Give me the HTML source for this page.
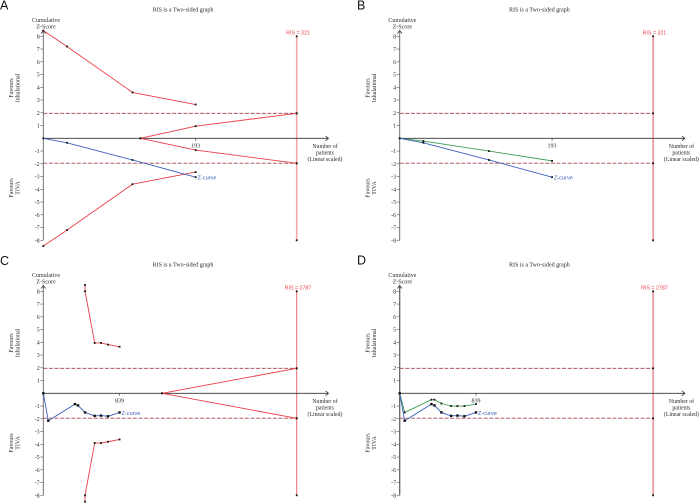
<!DOCTYPE html>
<html lang="en">
<head>
<meta charset="utf-8">
<title>Trial sequential analysis</title>
<style>
html,body{margin:0;padding:0;background:#fff;width:700px;height:503px;overflow:hidden}
svg{display:block}
text{font-family:"Liberation Serif",serif;font-size:6px;fill:#2c2c2c}
.letter{font-family:"Liberation Sans",sans-serif;font-size:12.5px;fill:#111}
.ris{font-family:"Liberation Sans",sans-serif;font-size:5.3px;fill:#e8404a;text-anchor:middle}
.zl{font-family:"Liberation Sans",sans-serif;font-size:5.6px;fill:#3b5fc0}
.c{text-anchor:middle}
.xt{font-size:5.8px}
</style>
</head>
<body>
<svg id="chart" xmlns="http://www.w3.org/2000/svg" width="700" height="503" viewBox="0 0 700 503">
  <g id="panel-a" transform="translate(0,0)">
    <text class="letter" x="0" y="9.3">A</text>
    <text class="c" x="183" y="11.5">RIS is a Two-sided graph</text>
    <text class="c" x="46" y="22"><tspan x="46">Cumulative</tspan><tspan x="46" dy="6.3">Z-Score</tspan></text>
    <text class="c" transform="translate(13,88) rotate(-90)"><tspan x="0">Favours</tspan><tspan x="0" dy="6.6">Inhalational</tspan></text>
    <text class="c" transform="translate(13,188) rotate(-90)"><tspan x="0">Favours</tspan><tspan x="0" dy="6.6">TIVA</tspan></text>
    <text class="c xt" x="325" y="148"><tspan x="325">Number of</tspan><tspan x="325" dy="6.5">patients</tspan><tspan x="325" dy="6.5">(Linear scaled)</tspan></text>
    <text class="ris" x="298" y="34.5">RIS = 321</text>
    <text class="zl" x="197.5" y="179.3">Z-curve</text>
  </g>
  <g id="panel-b" transform="translate(356.4,0)">
    <text class="letter" x="0.6" y="9.3">B</text>
    <text class="c" x="183" y="11.5">RIS is a Two-sided graph</text>
    <text class="c" x="46" y="22"><tspan x="46">Cumulative</tspan><tspan x="46" dy="6.3">Z-Score</tspan></text>
    <text class="c" transform="translate(13,88) rotate(-90)"><tspan x="0">Favours</tspan><tspan x="0" dy="6.6">Inhalational</tspan></text>
    <text class="c" transform="translate(13,188) rotate(-90)"><tspan x="0">Favours</tspan><tspan x="0" dy="6.6">TIVA</tspan></text>
    <text class="c xt" x="325" y="148"><tspan x="325">Number of</tspan><tspan x="325" dy="6.5">patients</tspan><tspan x="325" dy="6.5">(Linear scaled)</tspan></text>
    <text class="ris" x="298" y="34.5">RIS = 321</text>
    <text class="zl" x="197.5" y="179.3">Z-curve</text>
  </g>
  <g id="panel-c" transform="translate(0,255)">
    <text class="letter" x="0" y="10">C</text>
    <text class="c" x="183" y="11.5">RIS is a Two-sided graph</text>
    <text class="c" x="46" y="22"><tspan x="46">Cumulative</tspan><tspan x="46" dy="6.3">Z-Score</tspan></text>
    <text class="c" transform="translate(13,88) rotate(-90)"><tspan x="0">Favours</tspan><tspan x="0" dy="6.6">Inhalational</tspan></text>
    <text class="c" transform="translate(13,188) rotate(-90)"><tspan x="0">Favours</tspan><tspan x="0" dy="6.6">TIVA</tspan></text>
    <text class="c xt" x="325" y="148"><tspan x="325">Number of</tspan><tspan x="325" dy="6.5">patients</tspan><tspan x="325" dy="6.5">(Linear scaled)</tspan></text>
    <text class="ris" x="298" y="34.5">RIS = 2787</text>
    <text class="zl" x="121.5" y="160">Z-curve</text>
  </g>
  <g id="panel-d" transform="translate(356.4,255)">
    <text class="letter" x="0.6" y="9.6">D</text>
    <text class="c" x="183" y="11.5">RIS is a Two-sided graph</text>
    <text class="c" x="46" y="22"><tspan x="46">Cumulative</tspan><tspan x="46" dy="6.3">Z-Score</tspan></text>
    <text class="c" transform="translate(13,88) rotate(-90)"><tspan x="0">Favours</tspan><tspan x="0" dy="6.6">Inhalational</tspan></text>
    <text class="c" transform="translate(13,188) rotate(-90)"><tspan x="0">Favours</tspan><tspan x="0" dy="6.6">TIVA</tspan></text>
    <text class="c xt" x="325" y="148"><tspan x="325">Number of</tspan><tspan x="325" dy="6.5">patients</tspan><tspan x="325" dy="6.5">(Linear scaled)</tspan></text>
    <text class="ris" x="298" y="34.5">RIS = 2787</text>
    <text class="zl" x="121.5" y="160">Z-curve</text>
  </g>
</svg>
<script>
// Shared axis values
const yTickValues = [8, 7, 6, 5, 4, 3, 2, 1, -1, -2, -3, -4, -5, -6, -7, -8];
const conventionalBoundary = [1.96, -1.96];

// Small trials (panels A and B)
const risSmall = 321;
const tickSmall = [193];
const zPatientsSmall = [0, 30, 113, 193];
const zCurveSmall = [0, -0.35, -1.7, -3.05];
const greenCurveSmall = [0, -0.22, -1, -1.77];
const outerPatientsSmall = [0, 30, 113, 193];
const outerUpperSmall = [8.45, 7.2, 3.6, 2.65];
const outerLowerSmall = [-8.45, -7.2, -3.6, -2.65];
const wedgePatientsSmall = [123, 193, 321];
const wedgeUpperSmall = [0, 0.95, 1.96];
const wedgeLowerSmall = [0, -0.92, -1.96];

// Large trials (panels C and D)
const risLarge = 2787;
const tickLarge = [839];
const zPatientsLarge = [0, 55, 349, 382, 459, 565, 635, 712, 839];
const zCurveLarge = [0, -2.15, -0.85, -0.95, -1.5, -1.77, -1.75, -1.8, -1.5];
const greenCurveLarge = [0, -1.5, -0.5, -0.5, -0.8, -1, -1, -1, -0.85];
const outerPatientsLarge = [459, 459, 565, 635, 712, 839];
const outerUpperLarge = [8.5, 8, 3.95, 3.95, 3.82, 3.65];
const outerLowerLarge = [-8.5, -8, -3.9, -3.9, -3.8, -3.62];
const wedgePatientsLarge = [1306, 2787];
const wedgeUpperLarge = [0, 1.96];
const wedgeLowerLarge = [0, -1.96];

const NS = 'http://www.w3.org/2000/svg';
const X0 = 43.3, AXIS_W = 253.4, Y0 = 138.3, UNIT = 12.75;

function svgEl(parent, tag, attrs) {
  const el = document.createElementNS(NS, tag);
  for (const k in attrs) el.setAttribute(k, attrs[k]);
  parent.appendChild(el);
  return el;
}

function yScale(z) { return Y0 - z * UNIT; }

function drawSeries(g, name, xs, ys, xScale, color, width, dots) {
  const pts = xs.map((n, i) => xScale(n).toFixed(2) + ',' + yScale(ys[i]).toFixed(2)).join(' ');
  const line = svgEl(g, 'polyline', {points: pts, fill: 'none', stroke: color, 'stroke-width': width});
  
  
  xs.forEach((n, i) => {
    const d = svgEl(g, 'rect', {x: xScale(n) - dots / 2, y: yScale(ys[i]) - dots / 2, width: dots, height: dots, fill: '#111'});
    
    
  });
}

function drawPanel(id, cfg) {
  const g = document.getElementById(id);
  const xScale = n => X0 + n * AXIS_W / cfg.ris;
  const xEnd = xScale(cfg.ris);

  const risLine = svgEl(g, 'line', {x1: xEnd, x2: xEnd, y1: yScale(8), y2: yScale(-8), stroke: cfg.risColor, 'stroke-width': cfg.risWidth});
  
  

  const upperDash = svgEl(g, 'line', {x1: X0, x2: xEnd, y1: yScale(conventionalBoundary[0]), y2: yScale(conventionalBoundary[0]), stroke: '#a03a44', 'stroke-width': 0.9, 'stroke-dasharray': '4 1.6'});
  
  
  const lowerDash = svgEl(g, 'line', {x1: X0, x2: xEnd, y1: yScale(conventionalBoundary[1]), y2: yScale(conventionalBoundary[1]), stroke: '#c98a8d', 'stroke-width': 1.4, 'stroke-dasharray': '4 1.6'});
  
  

  const yAxis = svgEl(g, 'line', {x1: X0, x2: X0, y1: 31, y2: yScale(-8), stroke: '#666', 'stroke-width': cfg.axisWidth});
  
  
  const yArrow = svgEl(g, 'polyline', {points: (X0 - 2.2) + ',33.5 ' + X0 + ',30.5 ' + (X0 + 2.2) + ',33.5', fill: 'none', stroke: '#222', 'stroke-width': 0.7});
  
  
  const xAxis = svgEl(g, 'line', {x1: X0, x2: 328, y1: Y0, y2: Y0, stroke: '#333', 'stroke-width': 0.9});
  
  
  const xArrow = svgEl(g, 'polyline', {points: '325.5,' + (Y0 - 2.4) + ' 328.5,' + Y0 + ' 325.5,' + (Y0 + 2.4), fill: 'none', stroke: '#222', 'stroke-width': 0.7});
  
  

  yTickValues.forEach(v => {
    const t = svgEl(g, 'line', {x1: X0 - 3, x2: X0, y1: yScale(v), y2: yScale(v), stroke: '#555', 'stroke-width': 0.6});
    
    
    const l = svgEl(g, 'text', {x: X0 - 3.6, y: yScale(v) + 2, 'text-anchor': 'end'});
    l.textContent = String(v);
    
    
  });

  cfg.ticks.forEach(v => {
    const t = svgEl(g, 'line', {x1: xScale(v), x2: xScale(v), y1: Y0, y2: Y0 + 2.5, stroke: '#333', 'stroke-width': 0.6});
    
    
    const l = svgEl(g, 'text', {x: xScale(v), y: Y0 + 9.2, 'text-anchor': 'middle'});
    l.textContent = String(v);
    
    
  });

  [[8, 'ris-top-point'], [1.96, 'ris-upper-point'], [-1.96, 'ris-lower-point'], [-8, 'ris-bottom-point']].forEach(p => {
    const d = svgEl(g, 'rect', {x: xEnd - 0.9, y: yScale(p[0]) - 0.9, width: 1.8, height: 1.8, fill: '#111'});
    
    
  });

  if (cfg.showBoundaries) {
    drawSeries(g, 'upper-monitoring-boundary', cfg.outerX, cfg.outerUpper, xScale, '#ea3f48', 0.9, 1.8);
    drawSeries(g, 'lower-monitoring-boundary', cfg.outerX, cfg.outerLower, xScale, '#ea3f48', 0.9, 1.8);
    drawSeries(g, 'upper-futility-boundary', cfg.wedgeX, cfg.wedgeUpper, xScale, '#ea3f48', 0.9, 1.8);
    drawSeries(g, 'lower-futility-boundary', cfg.wedgeX, cfg.wedgeLower, xScale, '#ea3f48', 0.9, 1.8);
  }
  if (cfg.green) drawSeries(g, 'secondary-z-curve', cfg.zX, cfg.green, xScale, '#3f9f52', 0.9, 1.8);
  drawSeries(g, 'z-curve', cfg.zX, cfg.z, xScale, '#3b5fc0', 0.9, cfg.zDot);
}

drawPanel('panel-a', {ris: risSmall, ticks: tickSmall, zX: zPatientsSmall, z: zCurveSmall, outerX: outerPatientsSmall, outerUpper: outerUpperSmall, outerLower: outerLowerSmall, wedgeX: wedgePatientsSmall, wedgeUpper: wedgeUpperSmall, wedgeLower: wedgeLowerSmall, showBoundaries: true, risColor: '#f2a6aa', risWidth: 1.6, axisWidth: 0.9, zDot: 1.8});
drawPanel('panel-b', {ris: risSmall, ticks: tickSmall, zX: zPatientsSmall, z: zCurveSmall, green: greenCurveSmall, showBoundaries: false, risColor: '#e8404a', risWidth: 0.9, axisWidth: 0.9, zDot: 1.8});
drawPanel('panel-c', {ris: risLarge, ticks: tickLarge, zX: zPatientsLarge, z: zCurveLarge, outerX: outerPatientsLarge, outerUpper: outerUpperLarge, outerLower: outerLowerLarge, wedgeX: wedgePatientsLarge, wedgeUpper: wedgeUpperLarge, wedgeLower: wedgeLowerLarge, showBoundaries: true, risColor: '#ee6a72', risWidth: 1, axisWidth: 0.9, zDot: 2.4});
drawPanel('panel-d', {ris: risLarge, ticks: tickLarge, zX: zPatientsLarge, z: zCurveLarge, green: greenCurveLarge, showBoundaries: false, risColor: '#e8404a', risWidth: 0.9, axisWidth: 1.3, zDot: 2.4});
</script>
</body>
</html>
